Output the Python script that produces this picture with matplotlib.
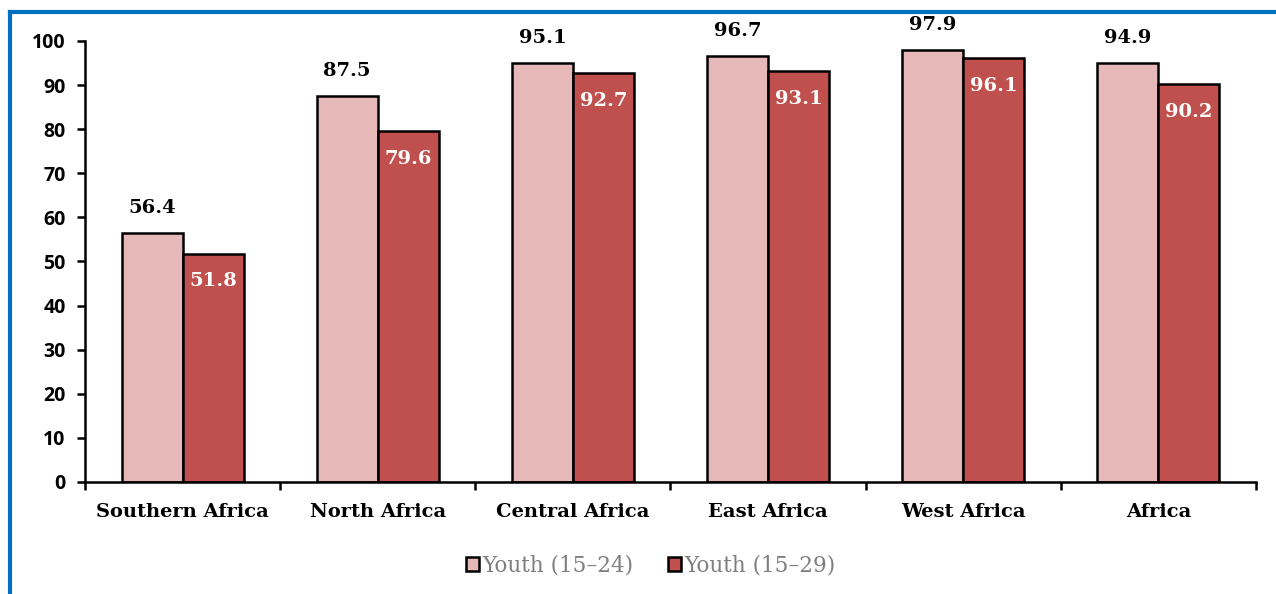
import numpy as np
import matplotlib.pyplot as plt
from matplotlib.lines import Line2D

regions = ['Southern Africa', 'North Africa', 'Central Africa', 'East Africa', 'West Africa', 'Africa']
youth_15_24 = [56.4, 87.5, 95.1, 96.7, 97.9, 94.9]
youth_15_29 = [51.8, 79.6, 92.7, 93.1, 96.1, 90.2]

light = '#E6B9B8'
dark = '#C0504D'

fig = plt.figure(figsize=(12.76, 5.94), dpi=100)
ax = fig.add_axes([0.0666, 0.1886, 0.9177, 0.7424])

x = np.arange(len(regions))
w = 0.3125
ax.bar(x - w/2, youth_15_24, w, color=light, edgecolor='black', linewidth=1.8, label='Youth (15\u201324)')
ax.bar(x + w/2, youth_15_29, w, color=dark, edgecolor='black', linewidth=1.8, label='Youth (15\u201329)')

# labels: light series above the bar, dark series inside the top
for xi, v in zip(x, youth_15_24):
    ax.annotate(f'{v:.1f}', (xi - w/2, v), xytext=(0, 18), textcoords='offset points',
                ha='center', va='center', family='DejaVu Serif', fontweight='bold', fontsize=14, color='black')
for xi, v in zip(x, youth_15_29):
    ax.annotate(f'{v:.1f}', (xi + w/2, v), xytext=(0, -20), textcoords='offset points',
                ha='center', va='center', family='DejaVu Serif', fontweight='bold', fontsize=14, color='white')

ax.set_xlim(-0.5, len(regions) - 0.5)
ax.set_ylim(0, 100)
ax.set_yticks(np.arange(0, 101, 10))
ax.tick_params(axis='y', direction='out', length=6, width=1.8, labelsize=14, pad=8)
for lab in ax.get_yticklabels():
    lab.set_fontweight('bold')
    lab.set_family('Open Sans')

ax.set_xticks(np.arange(-0.5, len(regions), 1.0))
ax.set_xticklabels([])
ax.tick_params(axis='x', direction='out', length=6, width=1.8)
ax.set_xticks(x, minor=True)
ax.set_xticklabels(regions, minor=True, family='DejaVu Serif', fontweight='bold', fontsize=14)
ax.tick_params(axis='x', which='minor', length=0, pad=15)

for s in ['top', 'right']:
    ax.spines[s].set_visible(False)
for s in ['left', 'bottom']:
    ax.spines[s].set_linewidth(1.8)

ax.legend(loc='center', bbox_to_anchor=(0.483, -0.19), ncol=2, frameon=False,
          prop={'family': 'DejaVu Serif', 'size': 15.5}, labelcolor='#7F7F7F',
          handlelength=0.6, handleheight=0.6, handletextpad=0.15, columnspacing=1.6)

# blue frame (top and left)
fig.add_artist(Line2D([0.0078, 1.0], [0.9798, 0.9798], color='#0070C0', linewidth=3, transform=fig.transFigure))
fig.add_artist(Line2D([0.0078, 0.0078], [0.0, 0.9798], color='#0070C0', linewidth=3, transform=fig.transFigure))

fig.savefig('out.png', dpi=100)
